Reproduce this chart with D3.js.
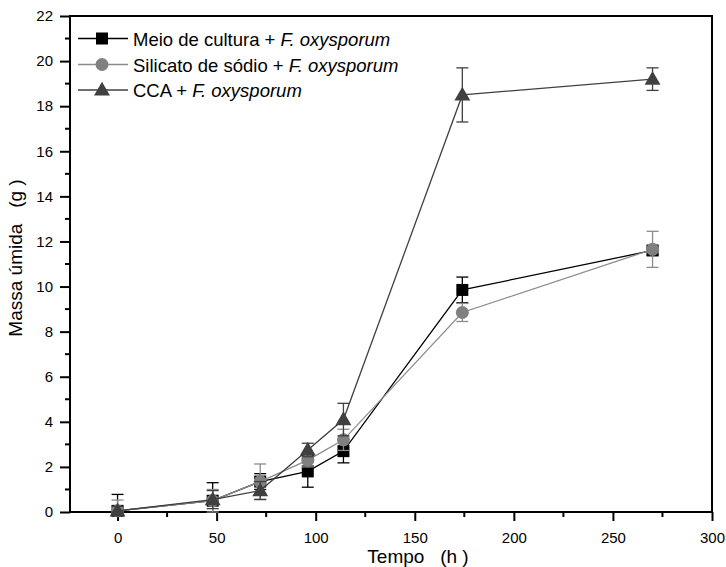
<!DOCTYPE html>
<html>
<head>
<meta charset="utf-8">
<script src="https://cdn.jsdelivr.net/npm/d3@7"></script>
<style>
  html, body { margin: 0; padding: 0; background: #fff; }
  svg { display: block; font-family: "Liberation Sans", Arial, sans-serif; }
  text { white-space: pre; }
</style>
</head>
<body>
<svg id="chart" width="726" height="567"></svg>
<script>
// Sampling times (h)
const times = [0, 48, 72, 96, 114, 174, 270];

// Fresh mass (g) per treatment, with error bar half-widths
const meioValues     = [0.05, 0.50, 1.35, 1.80, 2.70, 9.85, 11.60];
const meioErrors     = [0.73, 0.80, 0.35, 0.70, 0.52, 0.57, 0.20];
const silicatoValues = [0.05, 0.50, 1.35, 2.30, 3.20, 8.85, 11.65];
const silicatoErrors = [0.48, 0.50, 0.78, 0.30, 0.47, 0.40, 0.80];
const ccaValues      = [0.05, 0.55, 0.95, 2.75, 4.10, 18.50, 19.20];
const ccaErrors      = [0.20, 0.40, 0.40, 0.30, 0.72, 1.20, 0.50];

const seriesNames = ["Meio de cultura + ", "Silicato de sódio + ", "CCA + "];
const speciesName = "F. oxysporum";

const xTicks = [0, 50, 100, 150, 200, 250, 300];
const yTicks = [0, 2, 4, 6, 8, 10, 12, 14, 16, 18, 20, 22];

const svg = d3.select("#chart");
const plotLeft = 70, plotRight = 712, plotTop = 16, plotBottom = 512;
const fontStack = "'Liberation Sans', Arial, sans-serif";

const x = d3.scaleLinear().domain([-24, 300]).range([plotLeft, plotRight]);
const y = d3.scaleLinear().domain([0, 22]).range([plotBottom, plotTop]);

const series = [
  { name: seriesNames[0], values: meioValues, errors: meioErrors,
    line: "#000000", fill: "#000000", err: "#000000", shape: "square" },
  { name: seriesNames[1], values: silicatoValues, errors: silicatoErrors,
    line: "#8c8c8c", fill: "#808080", err: "#8c8c8c", shape: "circle" },
  { name: seriesNames[2], values: ccaValues, errors: ccaErrors,
    line: "#404040", fill: "#404040", err: "#404040", shape: "triangle" }
];

function marker(g, shape, cx, cy, color) {
  if (shape === "square") {
    g.append("rect").attr("x", cx - 6).attr("y", cy - 6)
      .attr("width", 12).attr("height", 12).attr("fill", color);
  } else if (shape === "circle") {
    g.append("circle").attr("cx", cx).attr("cy", cy).attr("r", 6.5).attr("fill", color);
  } else {
    g.append("path")
      .attr("d", d3.symbol().type(d3.symbolTriangle).size(110)())
      .attr("transform", `translate(${cx},${cy + 1})`)
      .attr("fill", color);
  }
}

// Frame
svg.append("rect").attr("x", plotLeft).attr("y", plotTop)
  .attr("width", plotRight - plotLeft).attr("height", plotBottom - plotTop)
  .attr("fill", "none").attr("stroke", "#000").attr("stroke-width", 2);

// X axis with major and minor ticks
const xAxis = d3.axisBottom(x).tickValues(xTicks).tickSize(9).tickSizeOuter(0).tickFormat(d3.format("d"));
const gx = svg.append("g").attr("transform", `translate(0,${plotBottom})`).call(xAxis);
gx.select(".domain").remove();
gx.selectAll(".tick line").attr("stroke-width", 2);
gx.selectAll(".tick text").attr("font-size", 15).attr("dy", "1.25em").attr("fill", "#000")
  .attr("font-family", fontStack);
const xMinor = d3.range(-25, 301, 50).filter(v => v >= -24);
svg.append("g").selectAll("line").data(xMinor).join("line")
  .attr("x1", d => x(d)).attr("x2", d => x(d))
  .attr("y1", plotBottom).attr("y2", plotBottom + 5)
  .attr("stroke", "#000").attr("stroke-width", 2);

// Y axis with major and minor ticks
const yAxis = d3.axisLeft(y).tickValues(yTicks).tickSize(10).tickSizeOuter(0).tickFormat(d3.format("d"));
const gy = svg.append("g").attr("transform", `translate(${plotLeft},0)`).call(yAxis);
gy.select(".domain").remove();
gy.selectAll(".tick line").attr("stroke-width", 2);
gy.selectAll(".tick text").attr("font-size", 15).attr("x", -17).attr("fill", "#000")
  .attr("font-family", fontStack);
const yMinor = d3.range(1, 22, 2);
svg.append("g").selectAll("line").data(yMinor).join("line")
  .attr("x1", plotLeft - 5).attr("x2", plotLeft)
  .attr("y1", d => y(d)).attr("y2", d => y(d))
  .attr("stroke", "#000").attr("stroke-width", 2);

// Axis titles
svg.append("text").attr("x", 418).attr("y", 563).attr("text-anchor", "middle")
  .attr("font-size", 19).text("Tempo   (h )");
svg.append("text").attr("transform", "translate(22,258) rotate(-90)")
  .attr("text-anchor", "middle").attr("font-size", 19).text("Massa úmida   (g )");

// Lines, error bars and markers
const line = d3.line().x(d => x(d[0])).y(d => y(d[1]));
series.forEach(s => {
  const pts = times.map((t, i) => [t, s.values[i], s.errors[i]]);
  const g = svg.append("g");
  g.append("path").attr("d", line(pts)).attr("fill", "none")
    .attr("stroke", s.line).attr("stroke-width", 1.3);
  pts.forEach(p => {
    const cx = x(p[0]);
    const hi = y(Math.min(p[1] + p[2], 22)), lo = y(Math.max(p[1] - p[2], 0));
    g.append("line").attr("x1", cx).attr("x2", cx).attr("y1", hi).attr("y2", lo)
      .attr("stroke", s.err).attr("stroke-width", 1.3);
    [hi, lo].forEach(yy => g.append("line")
      .attr("x1", cx - 6).attr("x2", cx + 6).attr("y1", yy).attr("y2", yy)
      .attr("stroke", s.err).attr("stroke-width", 1.3));
  });
  pts.forEach(p => marker(g, s.shape, x(p[0]), y(p[1]), s.fill));
});

// Legend
const legendRows = [38.5, 64.5, 90];
series.forEach((s, i) => {
  const g = svg.append("g");
  const ly = legendRows[i];
  g.append("line").attr("x1", 78).attr("x2", 128).attr("y1", ly).attr("y2", ly)
    .attr("stroke", s.line).attr("stroke-width", 1.3);
  marker(g, s.shape, 102, ly, s.fill);
  const t = g.append("text").attr("x", 133).attr("y", ly + 7).attr("font-size", 18.5);
  t.append("tspan").text(s.name);
  t.append("tspan").attr("font-style", "italic").text(speciesName);
});
</script>
</body>
</html>
